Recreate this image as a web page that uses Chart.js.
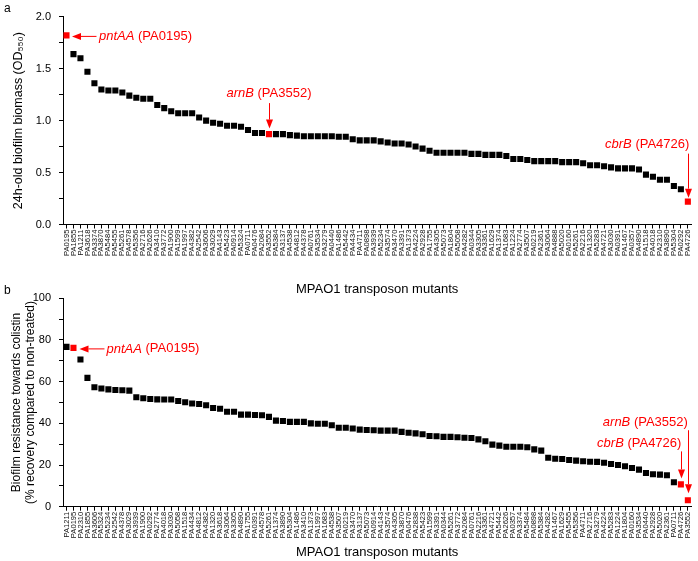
<!DOCTYPE html>
<html>
<head>
<meta charset="utf-8">
<script src="https://cdn.jsdelivr.net/npm/chart.js@4.4.0/dist/chart.umd.min.js"></script>
<style>
  html, body { margin: 0; padding: 0; background: #fff; }
  #wrap { position: relative; width: 698px; height: 561px; overflow: hidden; }
  #chartA { position: absolute; left: 0; top: 0; }
  #chartB { position: absolute; left: 0; top: 282px; }
</style>
</head>
<body>
<div id="wrap">
  <canvas id="chartA" width="698" height="296"></canvas>
  <canvas id="chartB" width="698" height="279"></canvas>
</div>
<script>
// panel a: biofilm biomass, sorted
const mutantsA = [
  'PA0195','PA1855','PA1211','PA3618','PA3374','PA3870','PA5484','PA5455','PA5261','PA4578',
  'PA5356','PA2716','PA2626','PA3410','PA3772','PA1900','PA1599','PA1997','PA4382','PA2542',
  'PA3606','PA3029','PA4143','PA5423','PA0914','PA5324','PA0711','PA0476','PA2084','PA3552',
  'PA5384','PA3137','PA4538','PA4812','PA4378','PA0761','PA3534','PA3279','PA0440','PA1486',
  'PA5442','PA4434','PA4711','PA0898','PA3939','PA5234','PA3574','PA3470','PA3391','PA1373',
  'PA4224','PA2928','PA1755','PA4305','PA5073','PA1804','PA5058','PA4282','PA0344','PA3305',
  'PA3361','PA1629','PA1374','PA1683','PA1224','PA2774','PA3507','PA0219','PA2361','PA3064',
  'PA4888','PA5020','PA0160','PA5261','PA2216','PA1320','PA5283','PA4721','PA3030','PA0391',
  'PA1467','PA0357','PA4890','PA1518','PA4018','PA2310','PA3890','PA5304','PA0292','PA4726'
];
const biomass = [
  1.82, 1.64, 1.60, 1.47, 1.36, 1.30, 1.29, 1.29, 1.27, 1.24,
  1.22, 1.21, 1.21, 1.15, 1.12, 1.09, 1.07, 1.07, 1.07, 1.03,
  1.00, 0.98, 0.97, 0.95, 0.95, 0.94, 0.91, 0.88, 0.88, 0.87,
  0.87, 0.87, 0.86, 0.855, 0.85, 0.85, 0.85, 0.85, 0.85, 0.845,
  0.845, 0.82, 0.81, 0.81, 0.81, 0.80, 0.79, 0.78, 0.78, 0.77,
  0.75, 0.73, 0.71, 0.69, 0.69, 0.69, 0.69, 0.69, 0.68, 0.68,
  0.67, 0.67, 0.67, 0.66, 0.63, 0.63, 0.62, 0.61, 0.61, 0.61,
  0.61, 0.60, 0.60, 0.60, 0.59, 0.57, 0.57, 0.56, 0.55, 0.54,
  0.54, 0.54, 0.53, 0.48, 0.46, 0.43, 0.43, 0.37, 0.34, 0.22
];

// panel b: resistance towards colistin, sorted
const mutantsB = [
  'PA1211','PA0195','PA2310','PA1855','PA3606','PA5324','PA5234','PA2542','PA4378','PA3029',
  'PA3939','PA1900','PA0292','PA2774','PA4018','PA3030','PA5058','PA1518','PA4434','PA4812',
  'PA4382','PA1320','PA3618','PA3064','PA3305','PA4890','PA1755','PA0391','PA4578','PA5261',
  'PA1374','PA3890','PA5304','PA1486','PA3410','PA1373','PA1997','PA1683','PA4538','PA3507',
  'PA0219','PA3470','PA3137','PA5073','PA0914','PA4143','PA3574','PA4305','PA3870','PA0476',
  'PA2838','PA5423','PA1599','PA3391','PA0344','PA5261','PA3772','PA2084','PA0761','PA2216',
  'PA3361','PA4721','PA5442','PA2626','PA0357','PA3374','PA5484','PA0898','PA5384','PA4282',
  'PA1467','PA1629','PA5455','PA5356','PA4711','PA2716','PA3279','PA4224','PA5283','PA1224',
  'PA1804','PA0160','PA3534','PA0440','PA2928','PA5020','PA2361','PA0711','PA4726','PA3552'
];
const resistance = [
  76.7, 76.2, 70.6, 61.8, 57.3, 56.7, 56.3, 56.0, 55.9, 55.7,
  52.5, 52.0, 51.7, 51.5, 51.4, 51.4, 50.7, 50.1, 49.5, 49.3,
  48.7, 47.4, 47.0, 45.6, 45.6, 44.2, 44.2, 44.0, 43.9, 43.1,
  41.3, 41.1, 40.7, 40.7, 40.7, 40.0, 39.8, 39.8, 39.1, 37.9,
  37.9, 37.5, 37.0, 36.8, 36.7, 36.5, 36.5, 36.5, 35.9, 35.5,
  35.2, 34.8, 33.9, 33.8, 33.5, 33.5, 33.3, 33.1, 33.0, 32.3,
  31.4, 29.8, 29.3, 28.8, 28.8, 28.8, 28.5, 27.5, 26.9, 23.5,
  23.0, 22.9, 22.4, 22.1, 21.8, 21.6, 21.5, 21.1, 20.5, 20.0,
  19.4, 18.6, 17.8, 16.2, 15.6, 15.4, 15.1, 11.7, 10.7, 3.1
];

// mutants marked in red, with gene names
const highlighted = ['PA0195', 'PA3552', 'PA4726'];
const geneNames = { PA0195: 'pntAA', PA3552: 'arnB', PA4726: 'cbrB' };

const RED = '#ff0000';
const FONT = '"Liberation Sans", Arial, Helvetica, sans-serif';
Chart.defaults.font.family = FONT;
Chart.defaults.color = '#000';

function drawArrow(ctx, x1, y1, x2, y2) {
    const ang = Math.atan2(y2 - y1, x2 - x1);
    const len = 9, half = 3.5;
    const bx = x2 - len * Math.cos(ang), by = y2 - len * Math.sin(ang);
    ctx.beginPath();
    ctx.moveTo(x1, y1);
    ctx.lineTo(bx, by);
    ctx.stroke();
    ctx.beginPath();
    ctx.moveTo(x2, y2);
    ctx.lineTo(bx - half * Math.sin(ang), by + half * Math.cos(ang));
    ctx.lineTo(bx + half * Math.sin(ang), by - half * Math.cos(ang));
    ctx.closePath();
    ctx.fill();
}

const callouts = {
    id: 'callouts',
    afterDatasetsDraw(chart, args, opts) {
        const ctx = chart.ctx;
        const xs = chart.scales.x, ys = chart.scales.y;
        const labels = chart.data.labels;
        const values = chart.data.datasets[0].data;
        ctx.save();
        ctx.fillStyle = RED;
        ctx.strokeStyle = RED;
        ctx.lineWidth = 1;
        ctx.textBaseline = 'middle';
        ctx.textAlign = 'left';
        (opts.notes || []).forEach(n => {
            const i = labels.indexOf(n.id);
            const x = xs.getPixelForValue(i);
            const y = ys.getPixelForValue(values[i]);
            const gene = geneNames[n.id];
            const rest = ' (' + n.id + ')';
            ctx.font = 'italic 13px ' + FONT;
            const w1 = ctx.measureText(gene).width;
            ctx.font = '13px ' + FONT;
            const w2 = ctx.measureText(rest).width;
            let tx = x + n.dx;
            if (n.align === 'center') tx -= (w1 + w2) / 2;
            if (n.align === 'right') tx -= (w1 + w2);
            const ty = y + n.dy;
            ctx.font = 'italic 13px ' + FONT;
            ctx.fillText(gene, tx, ty);
            ctx.font = '13px ' + FONT;
            ctx.fillText(rest, tx + w1, ty);
            if (n.arrow === 'left') {
                drawArrow(ctx, x + n.tail, ty, x + n.tip, ty);
            } else {
                const ax = Math.round(x) + 0.5;
                drawArrow(ctx, ax, y + n.tail, ax, y + n.tip);
            }
        });
        if (opts.tag) {
            ctx.fillStyle = '#000';
            ctx.font = '12px ' + FONT;
            ctx.fillText(opts.tag, 4, 9);
        }
        ctx.restore();
    }
};

function pointColors(labels) {
    return labels.map(l => highlighted.includes(l) ? RED : '#000');
}

function makeChart(canvasId, labels, values, cfg) {
    const el = document.getElementById(canvasId);
    return new Chart(el.getContext('2d'), {
        type: 'line',
        data: {
            labels: labels,
            datasets: [{
                data: values,
                showLine: false,
                pointStyle: 'rect',
                pointRadius: 4.3,
                pointBorderWidth: 0,
                pointBackgroundColor: pointColors(labels),
                pointBorderColor: pointColors(labels)
            }]
        },
        options: {
            responsive: false,
            animation: false,
            events: [],
            layout: { padding: { top: cfg.top, right: 2, left: 0, bottom: 0 } },
            plugins: {
                legend: { display: false },
                tooltip: { enabled: false },
                callouts: { notes: cfg.notes, tag: cfg.tag }
            },
            scales: {
                x: {
                    offset: true,
                    afterFit: s => { s.height = cfg.xHeight; },
                    border: { color: '#000', width: 1 },
                    grid: { offset: false, drawOnChartArea: false, tickLength: 4, color: '#000' },
                    ticks: { autoSkip: false, maxRotation: 90, minRotation: 90, padding: 1,
                             font: { size: 7.6 }, color: '#111' },
                    title: { display: true, text: 'MPAO1 transposon mutants',
                             font: { size: 13 }, padding: { top: 0, bottom: cfg.xTitlePad } }
                },
                y: {
                    min: cfg.min,
                    max: cfg.max,
                    afterFit: s => { s.width = 63; },
                    border: { color: '#000', width: 1 },
                    grid: { drawOnChartArea: false, tickLength: 4, color: '#000' },
                    ticks: { stepSize: cfg.step, padding: 8, font: { size: 11 },
                             callback: cfg.tickLabel },
                    title: { display: true, text: cfg.yTitle, font: { size: cfg.yTitleSize },
                             padding: { top: cfg.yTitlePad, bottom: 0 } }
                }
            }
        },
        plugins: [callouts]
    });
}

makeChart('chartA', mutantsA, biomass, {
    top: 16.7, xHeight: 71.5, xTitlePad: -1,
    min: 0, max: 2, step: 0.25,
    tickLabel: v => Math.abs(v * 2 - Math.round(v * 2)) < 1e-6 ? v.toFixed(1) : '',
    yTitle: '24h-old biofilm biomass (OD\u2085\u2085\u2080)', yTitleSize: 12.5, yTitlePad: 11.5,
    tag: 'a',
    notes: [
        { id: 'PA0195', arrow: 'left', dx: 32.5, dy: 1, tail: 30, tip: 5.5 },
        { id: 'PA3552', arrow: 'down', align: 'center', dx: 0, dy: -41, tail: -31, tip: -5.5 },
        { id: 'PA4726', arrow: 'down', align: 'right', dx: 1.5, dy: -57, tail: -48, tip: -4 }
    ]
});

makeChart('chartB', mutantsB, resistance, {
    top: 16.3, xHeight: 54.3, xTitlePad: 1.2,
    min: 0, max: 100, step: 10,
    tickLabel: v => v % 20 === 0 ? String(v) : '',
    yTitle: ['Biofilm resistance towards colistin', '(% recovery compared to non-treated)'],
    yTitleSize: 12, yTitlePad: 9,
    tag: 'b',
    notes: [
        { id: 'PA0195', arrow: 'left', dx: 33, dy: 1, tail: 31, tip: 6 },
        { id: 'PA3552', arrow: 'down', align: 'right', dx: 0, dy: -78, tail: -70, tip: -7 },
        { id: 'PA4726', arrow: 'down', align: 'right', dx: 0.5, dy: -41, tail: -33, tip: -6 }
    ]
});
</script>
</body>
</html>
